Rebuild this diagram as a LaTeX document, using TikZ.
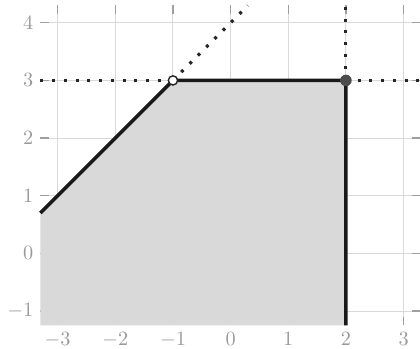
\documentclass[tikz,border=0pt]{standalone}
\usepackage{tikz}
\usetikzlibrary{calc}
\usepackage{amsmath}

\begin{document}
\begin{tikzpicture}
    \useasboundingbox (-4.0,-1.645) rectangle (3.285,4.395);
    % Establecer los límites del gráfico y agregar un grid
    \draw[step=1cm,gray!30,line width=0.5pt] (-3.3,-1.25) grid (3.3,4.3);

    % Marcas de los ejes
    \foreach \x in {-3,...,3}{
        \draw[gray!75,line width=0.6pt] (\x,4.3) -- (\x,4.15);
        \draw[gray!75,line width=0.6pt] (\x,-1.25) -- (\x,-1.1);
        \node[gray!80,below] (lx\x) at (\x,-1.25) {$\x$};
    }
    \foreach \y in {-1,...,4}{
        \draw[gray!75,line width=0.6pt] (-3.3,\y) -- (-3.15,\y);
        \draw[gray!75,line width=0.6pt] (3.3,\y) -- (3.15,\y);
        \node[gray!80,left] (ly\y) at (-3.3,\y) {$\y$};
    }

    % Definir los vértices de la región
    \coordinate (A) at (-3.3,0.7);
    \coordinate (P) at (-1,3);
    \coordinate (Q) at (2,3);
    \coordinate (B) at (2,-1.25);
    \coordinate (C) at (-3.3,-1.25);
    \coordinate (L) at (-3.3,3);
    \coordinate (R) at (3.3,3);
    \coordinate (T1) at (0.3,4.3);
    \coordinate (T2) at (2,4.3);

    % Rellenar la región
    \fill[gray!30] (A) -- (P) -- (Q) -- (B) -- (C) -- cycle;

    % Rectas punteadas
    \draw[black!85,line width=1.5pt,dash pattern=on 1.5pt off 4.3pt] (L) -- (P);
    \draw[black!85,line width=1.5pt,dash pattern=on 1.5pt off 4.3pt] (Q) -- (R);
    \draw[black!85,line width=1.5pt,dash pattern=on 1.5pt off 4.3pt] (P) -- (T1);
    \draw[black!85,line width=1.5pt,dash pattern=on 1.5pt off 4.3pt] (Q) -- (T2);

    % Frontera de la región
    \draw[black!90,line width=1.8pt] (A) -- (P) -- (Q) -- (B);

    % Puntos extremos
    \draw[black!85,line width=0.7pt,fill=white] (P) circle (0.08);
    \fill[black!70] (Q) circle (0.1);

\end{tikzpicture}
\end{document}
